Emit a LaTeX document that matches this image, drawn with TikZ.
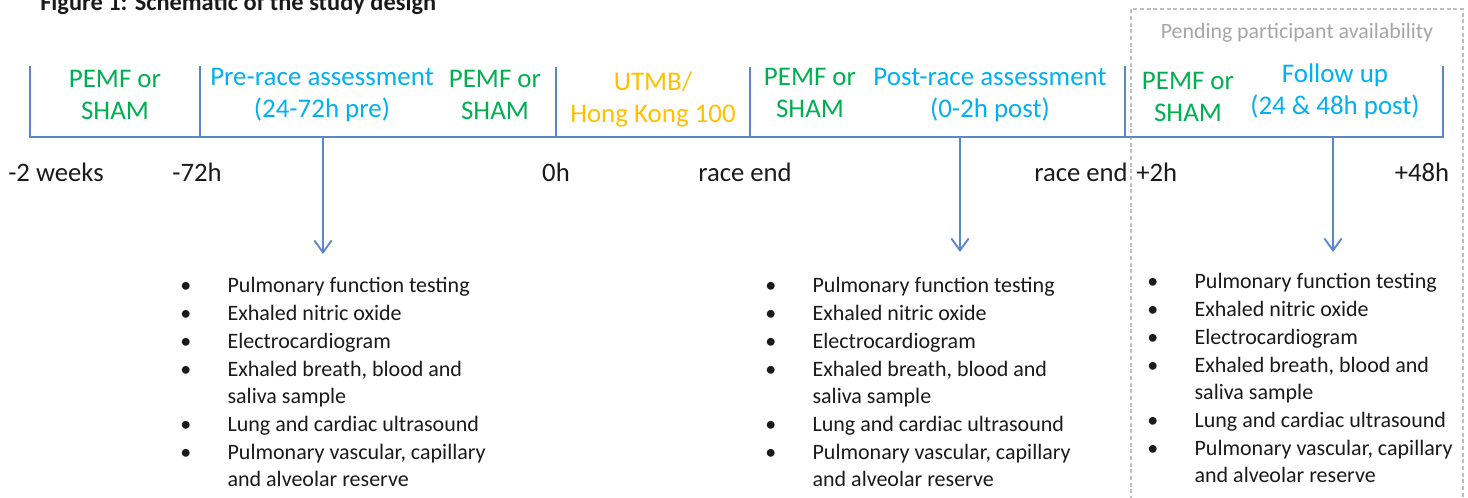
\documentclass[tikz,border=0pt]{standalone}
\usepackage{fontspec}
\setmainfont{Carlito}
\usetikzlibrary{arrows.meta}
\definecolor{pgreen}{HTML}{00B050}
\definecolor{pblue}{HTML}{00B0F0}
\definecolor{porange}{HTML}{FFC000}
\definecolor{axisblue}{HTML}{5B87C8}
\definecolor{dashgray}{HTML}{BFBFBF}
\definecolor{pendgray}{HTML}{A6A6A6}
\definecolor{txt}{HTML}{1A1A1A}
\newcommand{\bul}{\makebox[35.5pt][l]{•}}
\newcommand{\ind}{\hspace*{35.5pt}}
\begin{document}
\begin{tikzpicture}[x=0.75pt,y=-0.75pt,
  axisline/.style={draw=axisblue,line width=1.4pt},
  darrow/.style={axisline,-{Straight Barb[length=9pt,width=13pt]}},
  lab/.style={align=center,anchor=base,inner sep=0pt,font=\fontsize{20.2}{24}\selectfont},
  timelab/.style={anchor=base,inner sep=0pt,text=txt,font=\fontsize{20}{24}\selectfont},
  blist/.style={align=left,anchor=base west,inner sep=0pt,text=txt,font=\fontsize{16.5}{20.8}\selectfont},
  pendbox/.style={draw=dashgray,line width=0.8pt,dash pattern=on 3pt off 2pt}]
\useasboundingbox (0,0) rectangle (1468,498);
\clip (0,0) rectangle (1468,498);

% title (cut off at the top)
\node[anchor=base west,inner sep=0pt,text=txt,font=\bfseries\fontsize{18.3}{22}\selectfont] (title) at (40,11) {Figure 1: Schematic of the study design};

% pending box
\draw[pendbox] (1131,520) -- (1131,9) -- (1463,9) -- (1463,520);
\node[anchor=base,inner sep=0pt,text=pendgray,font=\fontsize{16.4}{20}\selectfont] (pend) at (1297,39) {Pending participant availability};

% axis coordinates
\coordinate (b0) at (30,137);   \coordinate (u0) at (30,66);
\coordinate (b1) at (200,137);  \coordinate (u1) at (200,66);
\coordinate (b2) at (556,137);  \coordinate (u2) at (556,67);
\coordinate (b3) at (750,137);  \coordinate (u3) at (750,67);
\coordinate (b4) at (1125,137); \coordinate (u4) at (1125,66);
\coordinate (b5) at (1443,137); \coordinate (u5) at (1443,66);
\coordinate (a1) at (323,137);  \coordinate (e1) at (323,254);
\coordinate (a2) at (960,137);  \coordinate (e2) at (960,252);
\coordinate (a3) at (1333,137); \coordinate (e3) at (1333,252);

\draw[axisline] (u0) -- (b0) -- (b5) -- (u5);
\draw[axisline] (u1) -- (b1);
\draw[axisline] (u2) -- (b2);
\draw[axisline] (u3) -- (b3);
\draw[axisline] (u4) -- (b4);
\draw[darrow] (a1) -- (e1);
\draw[darrow] (a2) -- (e2);
\draw[darrow] (a3) -- (e3);

% phase labels (positioned at the baseline of their last line)
\node[lab,text=pgreen] (p1) at (115,120) {PEMF or\\SHAM};
\node[lab,text=pblue] (pre) at (322,118) {Pre-race assessment\\(24-72h pre)};
\node[lab,text=pgreen] (p2) at (495,120) {PEMF or\\SHAM};
\node[lab,text=porange] (race) at (653,123) {UTMB/\\Hong Kong 100};
\node[lab,text=pgreen] (p3) at (810,118) {PEMF or\\SHAM};
\node[lab,text=pblue] (post) at (990,118) {Post-race assessment\\(0-2h post)};
\node[lab,text=pgreen] (p4) at (1188,122) {PEMF or\\SHAM};
\node[lab,text=pblue] (fu) at (1335,115) {Follow up\\(24 \& 48h post)};

% time labels
\node[timelab] (t0) at (56,182) {-2 weeks};
\node[timelab] (t1) at (197,182) {-72h};
\node[timelab] (t2) at (556,182) {0h};
\node[timelab] (t3) at (745,182) {race end};
\node[timelab,anchor=base east] (t4) at (1128,182) {race end};
\node[timelab,anchor=base west] (t5) at (1136,182) {+2h};
\node[timelab] (t6) at (1422,182) {+48h};

% bullet lists (positioned at the baseline of their last line)
\node[blist] (l1) at (180,487) {\bul Pulmonary function testing\\\bul Exhaled nitric oxide\\\bul Electrocardiogram\\\bul Exhaled breath, blood and\\\ind saliva sample\\\bul Lung and cardiac ultrasound\\\bul Pulmonary vascular, capillary\\\ind and alveolar reserve};
\node[blist] (l2) at (765,487) {\bul Pulmonary function testing\\\bul Exhaled nitric oxide\\\bul Electrocardiogram\\\bul Exhaled breath, blood and\\\ind saliva sample\\\bul Lung and cardiac ultrasound\\\bul Pulmonary vascular, capillary\\\ind and alveolar reserve};
\node[blist] (l3) at (1147,483) {\bul Pulmonary function testing\\\bul Exhaled nitric oxide\\\bul Electrocardiogram\\\bul Exhaled breath, blood and\\\ind saliva sample\\\bul Lung and cardiac ultrasound\\\bul Pulmonary vascular, capillary\\\ind and alveolar reserve};
\end{tikzpicture}
\end{document}
